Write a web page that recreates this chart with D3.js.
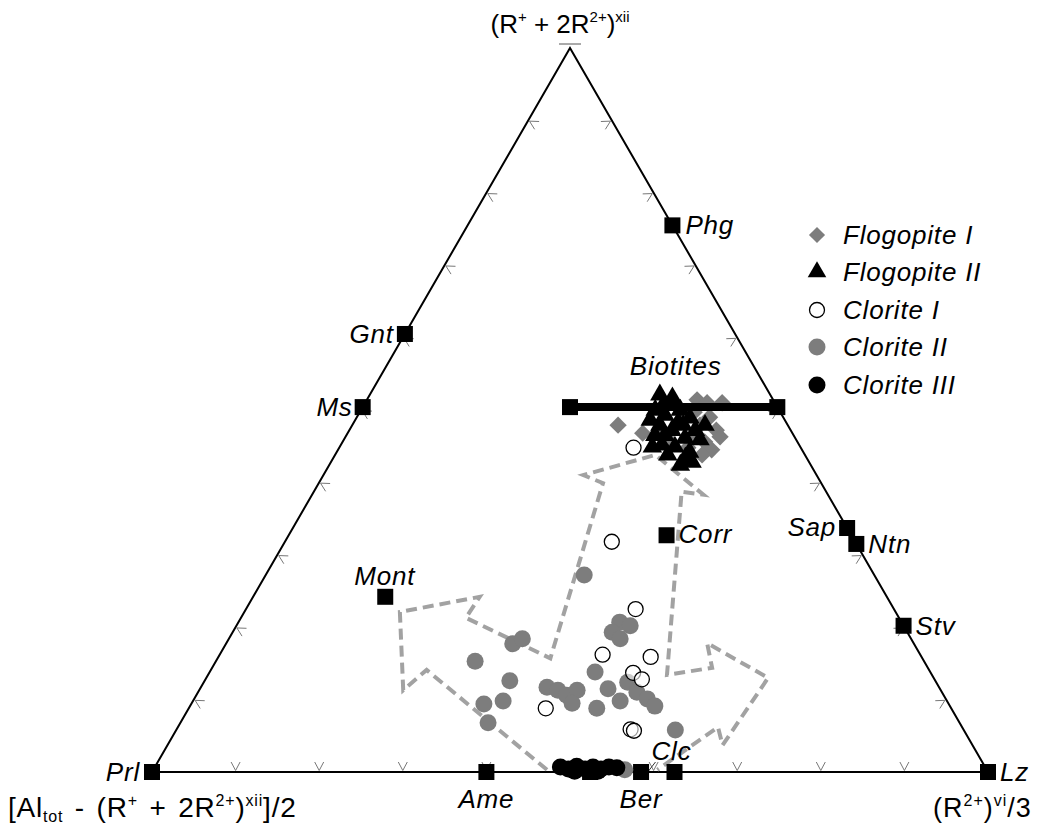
<!DOCTYPE html>
<html><head><meta charset="utf-8">
<script src="https://cdn.jsdelivr.net/npm/d3@7"></script>
<style>
html,body{margin:0;padding:0;background:#fff;}
svg{display:block;font-family:"Liberation Sans",Arial,sans-serif;}
</style></head>
<body>
<svg id="chart" width="1037" height="825"></svg>
<script>
// ---------- DATA (ternary: [top, left, right] in %) ----------
const axisTop = "(R+ + 2R2+)xii";
const axisLeft = "[Altot - (R+ + 2R2+)xii]/2";
const axisRight = "(R2+)vi/3";
const tickValues = [10,20,30,40,50,60,70,80,90];

const seriesNames = ["Flogopite I","Flogopite II","Clorite I","Clorite II","Clorite III"];

const flogopiteI = [
 [47.9,20.3,31.8],[46.8,17.9,35.3],[47.2,15.6,37.2],[51.4,9.1,39.5],[51.0,8.1,40.9],
 [51.0,6.3,42.7],[49.7,10.3,40.0],[49.0,8.8,42.2],[47.9,10.5,41.6],[47.2,8.9,43.9],
 [46.3,8.9,44.8],[46.5,11.6,41.9],[45.6,11.1,43.3],[44.5,10.8,44.7],[43.8,12.3,43.9],
 [44.8,13.5,41.7],[45.9,15.3,38.8],[48.6,12.5,38.9]
];
const flogopiteII = [
 [52.1,13.2,34.7],[51.7,11.9,36.4],[50.0,14.8,35.2],[49.3,14.0,36.7],[50.0,11.8,38.2],
 [48.9,11.2,39.9],[47.9,15.3,36.8],[47.2,14.2,38.6],[46.5,16.6,36.9],[46.1,13.2,40.7],
 [47.2,11.4,41.4],[45.2,16.4,38.4],[44.9,15.0,40.1],[44.2,13.6,42.2],[43.8,16.4,39.8],
 [43.4,14.5,42.1],[45.9,11.5,42.6],[48.6,16.1,35.3],[48.3,12.9,38.8],[47.9,9.9,42.2],
 [50.7,13.5,35.8],[44.9,17.7,37.4],[42.4,15.6,42.0],[42.8,14.0,43.2],[46.5,15.4,38.1],
 [47.9,12.5,39.6]
];
const cloriteI = [
 [44.8,20.0,35.2],[31.8,29.1,39.1],[22.5,30.9,46.6],[16.2,38.0,45.8],[15.9,32.4,51.7],
 [13.7,35.6,50.7],[12.8,35.0,52.2],[8.8,48.5,42.7],[5.9,39.8,54.3],[5.7,39.5,54.8]
];
const cloriteII = [
 [27.2,34.7,38.1],[17.7,48.0,34.3],[18.4,46.5,35.1],[15.3,53.7,31.0],[20.7,33.7,45.6],
 [20.2,32.7,47.1],[19.3,35.3,45.4],[18.4,34.8,46.8],[12.6,50.9,36.5],[9.4,55.6,35.0],
 [9.8,53.1,37.1],[6.8,56.4,36.8],[11.7,46.9,41.4],[11.3,45.8,42.9],[10.6,45.1,44.3],
 [11.3,43.5,45.2],[9.5,45.0,45.5],[13.8,40.1,46.1],[11.5,39.7,48.8],[9.8,39.1,51.1],
 [8.8,42.4,48.8],[12.4,36.9,50.7],[11.0,36.5,52.5],[10.1,35.7,54.2],[9.1,35.3,55.6],
 [5.8,34.5,59.7],[0.3,43.3,56.4]
];
const cloriteIII = [
 [0.7,50.8,48.5],[0.4,50.0,49.6],[0.8,48.8,50.4],[0.4,48.0,51.6],[0.7,46.9,52.4],
 [0.4,46.1,53.5],[0.7,45.0,54.3],[0.6,44.1,55.3],[0.1,49.4,50.5],[0.1,46.6,53.3]
];

const endMemberNames = ["Prl","Ame","Ber","Clc","Lz","Mont","Ms","Gnt","Phg","Corr","Sap","Ntn","Stv",""];
const endMemberValues = [
 [0,100,0],[0,60,40],[0,41.5,58.5],[0,37.5,62.5],[0,0,100],[24.2,60.0,15.8],
 [50.4,49.6,0],[60.5,39.5,0],[75.5,0,24.5],[32.7,22.1,45.2],[33.7,0,66.3],
 [31.5,0,68.5],[20.2,0,79.8],[0,47.6,52.4]
];
const biotiteLabel = "Biotites";
const biotiteLine = [[50.4,24.8,24.8],[50.4,0,49.6]];

// dashed arrow outline (ternary)
const arrowPath = [
 [0.3,52.6,47.1],[14.1,60.1,25.8],[11.3,64.3,24.4],[22.1,59.3,18.6],[24.2,48.7,27.1],
 [21.3,51.8,26.9],[15.7,44.5,39.8],[39.9,26.1,34.0],[41.0,27.9,31.1],[43.8,17.9,38.3],
 [38.3,14.9,46.8],[38.7,17.3,44.0],[13.4,31.7,54.9],[14.4,25.8,59.8],[17.8,24.7,57.5],
 [13.0,19.8,67.2],[3.7,29.9,66.4],[6.2,29.2,64.6],[0.3,39.4,60.3]
];

// ---------- STYLE ----------
const FS = 26;
const LS = 0.8;
const grey = "#7d7d7d";
const labelStyle = {
 Prl:{dx:-12,dy:9,a:"end"}, Lz:{dx:12,dy:9,a:"start"}, Ame:{dx:0,dy:36,a:"middle"},
 Ber:{dx:0,dy:36,a:"middle"}, Clc:{dx:-3,dy:-12,a:"middle"}, Mont:{dx:30,dy:-12,a:"end"},
 Ms:{dx:-10,dy:9,a:"end"}, Gnt:{dx:-11,dy:9,a:"end"}, Phg:{dx:13,dy:9,a:"start"},
 Corr:{dx:12,dy:8,a:"start"}, Sap:{dx:-11,dy:8,a:"end"}, Ntn:{dx:12,dy:9,a:"start"},
 Stv:{dx:12,dy:9,a:"start"}
};

const svg = d3.select("#chart");
const S3 = Math.sqrt(3)/2;
const xS = d3.scaleLinear().domain([0,1]).range([152,988]);
const yS = d3.scaleLinear().domain([0,S3]).range([772,48]);
function proj(v){ const T=v[0]/100, R=v[2]/100; return [xS(R+T/2), yS(T*S3)]; }

const A = proj([100,0,0]), BL = proj([0,100,0]), BR = proj([0,0,100]);

// triangle
svg.append("path").attr("d", d3.line()([A,BL,BR]) + "Z")
  .attr("fill","none").attr("stroke","#000").attr("stroke-width",2);
svg.append("line").attr("x1",A[0]-11).attr("x2",A[0]+11).attr("y1",A[1]-4).attr("y2",A[1]-4)
  .attr("stroke","#555").attr("stroke-width",1);

// ticks (chevrons)
const edges = [[BL,BR],[BR,A],[A,BL]];
const tickG = svg.append("g").attr("stroke","#777").attr("stroke-width",1).attr("fill","none");
edges.forEach(([P,Q])=>{
  const dx=Q[0]-P[0], dy=Q[1]-P[1], len=Math.hypot(dx,dy);
  const u=[dx/len,dy/len], n=[u[1],-u[0]];
  tickValues.forEach(t=>{
    const f=t/100, px=P[0]+dx*f, py=P[1]+dy*f;
    const v=[px+n[0]*1.5, py+n[1]*1.5];
    const a1=[px+n[0]*10-u[0]*4.5, py+n[1]*10-u[1]*4.5];
    const a2=[px+n[0]*10+u[0]*4.5, py+n[1]*10+u[1]*4.5];
    tickG.append("path").attr("d", d3.line()([a1,v,a2]));
  });
});

// dashed arrow
svg.append("path").attr("d", d3.line()(arrowPath.map(proj)))
  .attr("fill","none").attr("stroke","#a2a2a2").attr("stroke-width",4)
  .attr("stroke-dasharray","11,6").attr("stroke-linejoin","miter");

// Clc leader
const clcP = proj(endMemberValues[3]);
svg.append("line").attr("x1",clcP[0]-19).attr("y1",clcP[1]-10).attr("x2",clcP[0]-26).attr("y2",clcP[1]-1)
  .attr("stroke","#333").attr("stroke-width",1);

// end-member squares
const sq = 16;
svg.append("g").selectAll("rect").data(endMemberValues).join("rect")
  .attr("x",d=>proj(d)[0]-sq/2).attr("y",d=>proj(d)[1]-sq/2)
  .attr("width",sq).attr("height",sq).attr("fill","#000");

// Clorite II (grey)
svg.append("g").selectAll("circle").data(cloriteII).join("circle")
  .attr("cx",d=>proj(d)[0]).attr("cy",d=>proj(d)[1]).attr("r",8.5).attr("fill",grey);
// Clorite I (open)
svg.append("g").selectAll("circle").data(cloriteI).join("circle")
  .attr("cx",d=>proj(d)[0]).attr("cy",d=>proj(d)[1]).attr("r",7.5)
  .attr("fill","#fff").attr("fill-opacity",0.6).attr("stroke","#000").attr("stroke-width",1.3);
// Clorite III (black)
svg.append("g").selectAll("circle").data(cloriteIII).join("circle")
  .attr("cx",d=>proj(d)[0]).attr("cy",d=>proj(d)[1]).attr("r",8.5).attr("fill","#000");

// Flogopite I diamonds
const diamond = d3.symbol().type(d3.symbolSquare).size(150);
svg.append("g").selectAll("path").data(flogopiteI).join("path")
  .attr("d",diamond).attr("fill",grey)
  .attr("transform",d=>`translate(${proj(d)[0]},${proj(d)[1]}) rotate(45)`);

// Biotite line
const bl0 = proj(biotiteLine[0]), bl1 = proj(biotiteLine[1]);
svg.append("line").attr("x1",bl0[0]).attr("x2",bl1[0]).attr("y1",bl0[1]).attr("y2",bl1[1])
  .attr("stroke","#000").attr("stroke-width",8);
svg.append("g").selectAll("rect").data(biotiteLine).join("rect")
  .attr("x",d=>proj(d)[0]-sq/2).attr("y",d=>proj(d)[1]-sq/2)
  .attr("width",sq).attr("height",sq).attr("fill","#000");
svg.append("text").attr("x",(bl0[0]+bl1[0])/2+2).attr("y",bl0[1]-32)
  .attr("text-anchor","middle").attr("font-size",FS).attr("letter-spacing",LS)
  .attr("font-style","italic").text(biotiteLabel);

// Flogopite II triangles
const tri = d3.symbol().type(d3.symbolTriangle).size(165);
svg.append("g").selectAll("path").data(flogopiteII).join("path")
  .attr("d",tri).attr("fill","#000")
  .attr("transform",d=>`translate(${proj(d)[0]},${proj(d)[1]})`);

// end-member labels
svg.append("g").selectAll("text").data(endMemberNames.filter(n=>n)).join("text")
  .attr("x",n=>proj(endMemberValues[endMemberNames.indexOf(n)])[0]+labelStyle[n].dx)
  .attr("y",n=>proj(endMemberValues[endMemberNames.indexOf(n)])[1]+labelStyle[n].dy)
  .attr("text-anchor",n=>labelStyle[n].a)
  .attr("font-size",FS).attr("letter-spacing",LS).attr("font-style","italic").text(n=>n);

// axis labels with sup/sub
function richText(x,y,anchor,parts,fs,ls,ws,ss){
  const t = svg.append("text").attr("x",x).attr("y",y).attr("text-anchor",anchor)
    .attr("font-size",fs).attr("letter-spacing",ls).attr("word-spacing",ws);
  parts.forEach(p=>{
    const s = t.append("tspan").text(p[0]);
    if(p[1]==="sup") s.attr("font-size",ss).attr("dy",-11);
    if(p[1]==="sub") s.attr("font-size",ss).attr("dy",5);
    if(p[1]==="back") s.attr("dy",11);
    if(p[1]==="backsub") s.attr("dy",-5);
  });
  return t;
}
richText(560, 33, "middle", [["(R"],["+","sup"],[" + 2R","back"],["2+","sup"],[")","back"],["xii","sup"]],26,0,0,15);
richText(8, 817, "start", [["[Al"],["tot","sub"],[" - (R","backsub"],["+","sup"],[" + 2R","back"],["2+","sup"],[")","back"],["xii","sup"],["]/2","back"]],28,0.8,3,16);
richText(933, 817, "start", [["(R"],["2+","sup"],[")","back"],["vi","sup"],["/3","back"]],27,1,0,16);

// legend
const legRows = [235,272,310,347,385];
const lg = svg.append("g");
seriesNames.forEach((name,i)=>{
  const y = legRows[i], x = 817;
  if(i===0) lg.append("path").attr("d",d3.symbol().type(d3.symbolSquare).size(130)).attr("fill",grey).attr("transform",`translate(${x},${y}) rotate(45)`);
  if(i===1) lg.append("path").attr("d",d3.symbol().type(d3.symbolTriangle).size(150)).attr("fill","#000").attr("transform",`translate(${x},${y})`);
  if(i===2) lg.append("circle").attr("cx",x).attr("cy",y).attr("r",7.5).attr("fill","#fff").attr("stroke","#000").attr("stroke-width",1.3);
  if(i===3) lg.append("circle").attr("cx",x).attr("cy",y).attr("r",8.5).attr("fill",grey);
  if(i===4) lg.append("circle").attr("cx",x).attr("cy",y).attr("r",8.5).attr("fill","#000");
  lg.append("text").attr("x",843).attr("y",y+9).attr("font-size",FS).attr("letter-spacing",LS)
    .attr("font-style","italic").text(name);
});
</script>
</body></html>
